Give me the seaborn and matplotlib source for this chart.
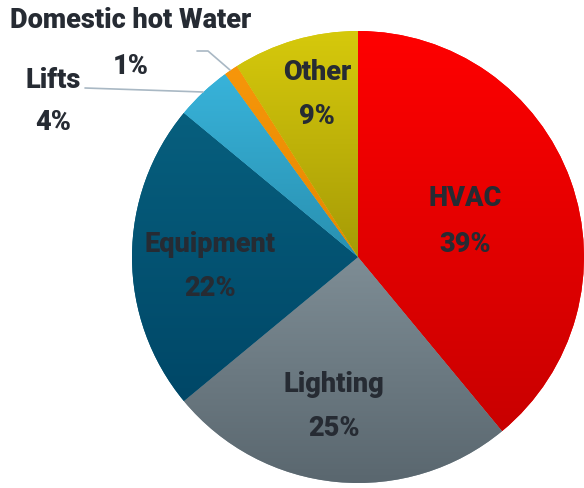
import numpy as np
import matplotlib
matplotlib.use("Agg")
import matplotlib.pyplot as plt
import matplotlib.colors as mcolors
import seaborn as sns

sns.set_theme(style="white")
plt.rcParams['font.family'] = ['Roboto', 'DejaVu Sans']

categories = ["HVAC", "Lighting", "Equipment", "Lifts", "Domestic hot Water", "Other"]
values = [39, 25, 22, 4, 1, 9]
top_colors = ["#ff0000", "#7e8d95", "#075f7e", "#38b3da", "#f7960a", "#d6c90c"]
bottom_colors = ["#c90000", "#59666e", "#004767", "#2990b0", "#e58800", "#a69b06"]

TEXT = "#262b33"

fig = plt.figure(figsize=(5.84, 4.88), dpi=100)
ax = fig.add_axes([132 / 584, (488 - 483) / 488, 452 / 584, 452 / 488])

wedges, _ = ax.pie(values, startangle=90, counterclock=False, radius=1,
                   colors=top_colors, wedgeprops=dict(linewidth=0))
ax.set_xlim(-1, 1)
ax.set_ylim(-1, 1)
ax.set_aspect("equal")
ax.axis("off")

# vertical gradient fill clipped to each wedge
for w, c1, c2 in zip(wedges, top_colors, bottom_colors):
    path = w.get_path().transformed(w.get_patch_transform())
    verts = path.vertices
    y0, y1 = verts[:, 1].min(), verts[:, 1].max()
    x0, x1 = verts[:, 0].min(), verts[:, 0].max()
    a = np.array(mcolors.to_rgb(c1))
    b = np.array(mcolors.to_rgb(c2))
    t = np.linspace(0, 1, 256)[:, None]
    grad = (a[None, :] * (1 - t) + b[None, :] * t)[:, None, :]
    im = ax.imshow(grad, extent=[x0, x1, y0, y1], origin="upper",
                   aspect="auto", zorder=2, interpolation="bilinear")
    im.set_clip_path(w)
ax.set_xlim(-1, 1)
ax.set_ylim(-1, 1)

def px(x, y):
    # pixel coordinates -> data coordinates
    cx, cy, r = 358, 257, 226
    return (x - cx) / r, (cy - y) / r

fs = 19.5
labels = {
    "HVAC": ((465, 199), (465, 244)),
    "Lighting": ((334, 384), (334, 428)),
    "Equipment": ((210, 245), (210, 288)),
    "Lifts": ((53, 80), (53, 123)),
    "Domestic hot Water": ((131, 21), (131, 66)),
    "Other": ((317, 73), (317, 116)),
}
for cat, v in zip(categories, values):
    (lx, ly), (vx, vy) = labels[cat]
    ax.text(*px(lx, ly), cat, ha="center", va="center", fontsize=fs,
            fontweight="heavy", color=TEXT, zorder=5, clip_on=False)
    ax.text(*px(vx, vy), f"{v}%", ha="center", va="center", fontsize=fs,
            fontweight="heavy", color=TEXT, zorder=5, clip_on=False)

line_color = "#a9b8c4"
lx, ly = zip(px(85, 88), px(203, 92))
ax.plot(lx, ly, color=line_color, lw=1.2, clip_on=False, zorder=4)
dx, dy = zip(px(197, 51), px(208, 51), px(230, 70))
ax.plot(dx, dy, color=line_color, lw=1.2, clip_on=False, zorder=4)

fig.savefig("out.png", dpi=100)
